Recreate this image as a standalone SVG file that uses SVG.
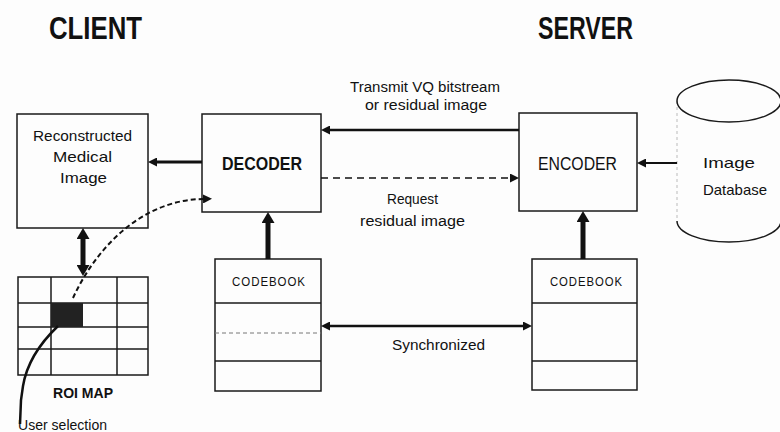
<svg xmlns="http://www.w3.org/2000/svg" width="780" height="432" viewBox="0 0 780 432">
  <style>
    text { font-family: "Liberation Sans", Arial, sans-serif; fill: #111; }
    .title { font-size: 31px; font-weight: bold; }
    .lbl { font-size: 15px; }
    .small { font-size: 14px; }
    .cb { font-size: 12px; letter-spacing: 1px; }
    .box { fill: none; stroke: #1a1a1a; stroke-width: 1.5; }
    .div { stroke: #1a1a1a; stroke-width: 1.5; }
    .faint { stroke: #777; stroke-width: 1; stroke-dasharray: 4 3; }
    .conn { fill: none; stroke: #111; }
  </style>
  <defs>
    <marker id="a" markerUnits="userSpaceOnUse" markerWidth="9" markerHeight="9" refX="0" refY="4.5" orient="auto-start-reverse">
      <path d="M0,0 L9,4.5 L0,9 z" fill="#111"/>
    </marker>
    <marker id="b" markerUnits="userSpaceOnUse" markerWidth="11" markerHeight="13" refX="0" refY="6.5" orient="auto-start-reverse">
      <path d="M0,0 L11,6.5 L0,13 z" fill="#111"/>
    </marker>
  </defs>
  <rect width="780" height="432" fill="#fdfdfd"/>

  <g id="titles">
    <text class="title" x="49" y="39" textLength="93" lengthAdjust="spacingAndGlyphs">CLIENT</text>
    <text class="title" x="538" y="39" textLength="95" lengthAdjust="spacingAndGlyphs">SERVER</text>
  </g>

  <g id="reconstructed">
    <rect class="box" x="17" y="114" width="131" height="114"/>
    <text class="lbl" x="33" y="141" textLength="99" lengthAdjust="spacingAndGlyphs">Reconstructed</text>
    <text class="lbl" x="53" y="162" textLength="59" lengthAdjust="spacingAndGlyphs">Medical</text>
    <text class="lbl" x="60" y="183" textLength="47" lengthAdjust="spacingAndGlyphs">Image</text>
  </g>

  <g id="decoder">
    <rect class="box" x="202" y="114" width="119" height="98"/>
    <text x="222" y="170" style="font-size:19px;font-weight:bold" textLength="80" lengthAdjust="spacingAndGlyphs">DECODER</text>
  </g>

  <g id="encoder">
    <rect class="box" x="519" y="113" width="118" height="98"/>
    <text x="538" y="170" style="font-size:18px" textLength="79" lengthAdjust="spacingAndGlyphs">ENCODER</text>
  </g>

  <g id="image-database">
    <line x1="677" y1="101" x2="677" y2="221" stroke="#bbb" stroke-width="1" stroke-dasharray="3 3"/>
    <ellipse cx="729" cy="101" rx="52" ry="21" fill="none" stroke="#1a1a1a" stroke-width="1.5"/>
    <path d="M677,221 A52,21 0 0 0 781,221" fill="none" stroke="#1a1a1a" stroke-width="1.5"/>
    <text class="lbl" x="703" y="168" textLength="52" lengthAdjust="spacingAndGlyphs">Image</text>
    <text class="lbl" x="703" y="195" textLength="64" lengthAdjust="spacingAndGlyphs">Database</text>
  </g>

  <g id="codebook-client">
    <rect class="box" x="215" y="259" width="106" height="132"/>
    <line class="div" x1="215" y1="303" x2="321" y2="303"/>
    <line class="faint" x1="215" y1="333" x2="321" y2="333"/>
    <line class="div" x1="215" y1="361" x2="321" y2="361"/>
    <text class="cb" x="232" y="286" textLength="74" lengthAdjust="spacingAndGlyphs">CODEBOOK</text>
  </g>

  <g id="codebook-server">
    <rect class="box" x="532" y="259" width="105" height="131"/>
    <line class="div" x1="532" y1="303" x2="637" y2="303"/>
    <line class="div" x1="532" y1="361" x2="637" y2="361"/>
    <text class="cb" x="550" y="286" textLength="73" lengthAdjust="spacingAndGlyphs">CODEBOOK</text>
  </g>

  <g id="roi-map">
    <rect class="box" x="18" y="277" width="130" height="98"/>
    <line class="div" x1="51" y1="277" x2="51" y2="375"/>
    <line class="div" x1="117" y1="277" x2="117" y2="375"/>
    <line class="div" x1="18" y1="303" x2="148" y2="303"/>
    <line class="div" x1="18" y1="327" x2="148" y2="327"/>
    <line class="div" x1="18" y1="349" x2="148" y2="349"/>
    <rect x="51" y="303" width="32" height="24" fill="#222"/>
    <text x="53" y="398" style="font-size:14px;font-weight:bold" textLength="60" lengthAdjust="spacingAndGlyphs">ROI MAP</text>
  </g>

  <g id="user-selection">
    <text class="small" x="18" y="430" textLength="89" lengthAdjust="spacingAndGlyphs">User selection</text>
  </g>

  <g id="connectors">
    <line class="conn" x1="519" y1="130" x2="330" y2="130" stroke-width="2.5" marker-end="url(#a)"/>
    <text class="small" x="350" y="92" textLength="150" lengthAdjust="spacingAndGlyphs">Transmit VQ bitstream</text>
    <text class="small" x="365" y="110" textLength="122" lengthAdjust="spacingAndGlyphs">or residual image</text>

    <line class="conn" x1="321" y1="178" x2="510" y2="178" stroke-width="1.3" stroke="#666" stroke-dasharray="7 5" marker-end="url(#a)"/>
    <text class="small" x="387" y="204" textLength="51" lengthAdjust="spacingAndGlyphs">Request</text>
    <text class="small" x="360" y="226" textLength="105" lengthAdjust="spacingAndGlyphs">residual image</text>

    <line class="conn" x1="202" y1="162" x2="157" y2="162" stroke-width="3" marker-end="url(#a)"/>
    <line class="conn" x1="677" y1="163" x2="646" y2="163" stroke-width="2" marker-end="url(#a)"/>

    <line class="conn" x1="268" y1="259" x2="268" y2="223" stroke-width="5" marker-end="url(#b)"/>
    <line class="conn" x1="583" y1="259" x2="583" y2="222" stroke-width="5" marker-end="url(#b)"/>

    <line class="conn" x1="330" y1="326" x2="523" y2="326" stroke-width="2.5" marker-start="url(#a)" marker-end="url(#a)"/>
    <text class="small" x="392" y="350" textLength="93" lengthAdjust="spacingAndGlyphs">Synchronized</text>

    <line class="conn" x1="83" y1="239" x2="83" y2="265" stroke-width="5" marker-start="url(#b)" marker-end="url(#b)"/>

    <path class="conn" d="M73,298 C95,250 140,200 203,199" stroke-width="2" stroke-dasharray="5 3" marker-end="url(#a)"/>

    <path class="conn" d="M20,424 L21,400 L23,386 C26,368 35,348 58,326" stroke-width="2.5"/>
  </g>
</svg>
